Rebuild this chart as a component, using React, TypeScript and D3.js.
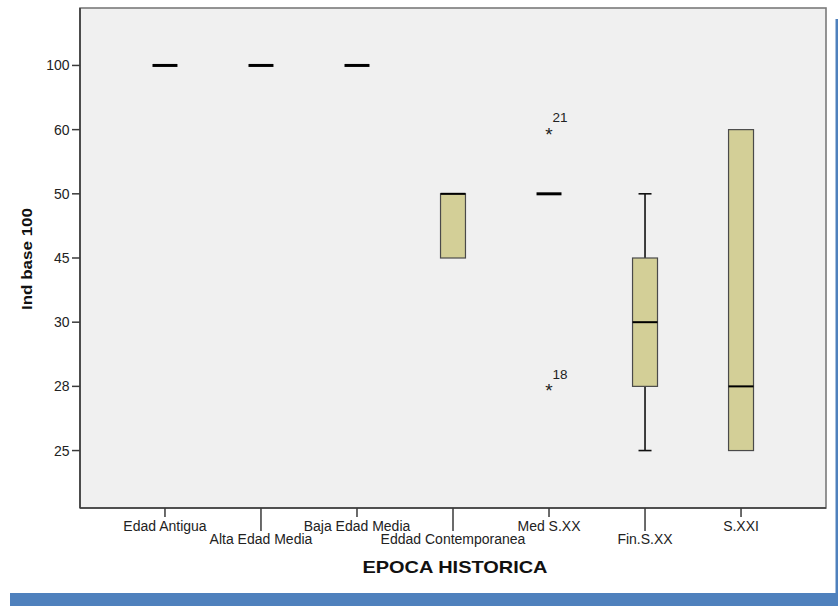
import React from "react";
import * as d3 from "d3";

const categories = [
  "Edad Antigua",
  "Alta Edad Media",
  "Baja Edad Media",
  "Eddad Contemporanea",
  "Med S.XX",
  "Fin.S.XX",
  "S.XXI",
];
const yTickLabels = ["100", "60", "50", "45", "30", "28", "25"];
const whiskerLow = [100, 100, 100, 45, 50, 25, 25];
const q1 = [100, 100, 100, 45, 50, 28, 25];
const median = [100, 100, 100, 50, 50, 30, 28];
const q3 = [100, 100, 100, 50, 50, 45, 60];
const whiskerHigh = [100, 100, 100, 50, 50, 50, 60];
const outlierCats = ["Med S.XX", "Med S.XX"];
const outlierValues = [60, 28];
const outlierLabels = ["21", "18"];
const xTitle = "EPOCA HISTORICA";
const yTitle = "Ind base 100";

const W = 838;
const H = 606;
const plot = { left: 80, right: 826, top: 8, bottom: 508 };
const FONT = "'Liberation Sans', Arial, sans-serif";

export default function App() {
  const x = d3
    .scalePoint<string>()
    .domain(categories)
    .range([plot.left, plot.right])
    .padding(0.885);
  const y = d3
    .scalePoint<string>()
    .domain(yTickLabels)
    .range([plot.top, plot.bottom])
    .padding(0.895);
  const yv = (v: number) => y(String(v)) as number;
  const boxW = x.step() * 0.26;
  const capW = 13;

  return (
    <svg
      width={W}
      height={H}
      style={{ position: "absolute", left: 0, top: 0, display: "block" }}
      fontFamily={FONT}
    >
      <rect x={0} y={0} width={W} height={H} fill="#ffffff" />
      {/* page decoration */}
      <rect x={10} y={593} width={828} height={13} fill="#4f81bd" />
      <rect x={835.5} y={19} width={2.5} height={580} fill="#4f81bd" />

      {/* plot area */}
      <rect
        x={plot.left}
        y={plot.top}
        width={plot.right - plot.left}
        height={plot.bottom - plot.top}
        fill="#f0f0f0"
        stroke="#7a7a7a"
        strokeWidth={1.6}
      />
      <line x1={plot.left} x2={plot.left} y1={plot.top} y2={plot.bottom} stroke="#3a3a3a" strokeWidth={1.6} />
      <line x1={plot.left} x2={plot.right} y1={plot.bottom} y2={plot.bottom} stroke="#3a3a3a" strokeWidth={1.6} />

      {/* y axis ticks */}
      {yTickLabels.map((t) => (
        <g key={t}>
          <line x1={72} x2={plot.left} y1={y(t)} y2={y(t)} stroke="#3a3a3a" strokeWidth={1.5} />
          <text x={69.5} y={(y(t) as number) + 5} textAnchor="end" fontSize={14} fill="#222">
            {t}
          </text>
        </g>
      ))}

      {/* x axis ticks */}
      {categories.map((c, i) => {
        const cx = x(c) as number;
        const long = i % 2 === 1;
        return (
          <g key={c}>
            <line x1={cx} x2={cx} y1={plot.bottom} y2={long ? 531 : 517} stroke="#3a3a3a" strokeWidth={1.5} />
            <text x={cx} y={long ? 544 : 531} textAnchor="middle" fontSize={14} fill="#222">
              {c}
            </text>
          </g>
        );
      })}

      {/* boxes */}
      {categories.map((c, i) => {
        const cx = x(c) as number;
        const hasBox = q1[i] !== q3[i];
        return (
          <g key={"b" + c}>
            {whiskerHigh[i] !== q3[i] && (
              <g>
                <line x1={cx} x2={cx} y1={yv(q3[i])} y2={yv(whiskerHigh[i])} stroke="#111" strokeWidth={1.6} />
                <line x1={cx - capW / 2} x2={cx + capW / 2} y1={yv(whiskerHigh[i])} y2={yv(whiskerHigh[i])} stroke="#111" strokeWidth={1.6} />
              </g>
            )}
            {whiskerLow[i] !== q1[i] && (
              <g>
                <line x1={cx} x2={cx} y1={yv(q1[i])} y2={yv(whiskerLow[i])} stroke="#111" strokeWidth={1.6} />
                <line x1={cx - capW / 2} x2={cx + capW / 2} y1={yv(whiskerLow[i])} y2={yv(whiskerLow[i])} stroke="#111" strokeWidth={1.6} />
              </g>
            )}
            {hasBox && (
              <rect
                x={cx - boxW / 2}
                y={yv(q3[i])}
                width={boxW}
                height={yv(q1[i]) - yv(q3[i])}
                fill="#d3cf97"
                stroke="#4a4a4a"
                strokeWidth={1.2}
              />
            )}
            <line
              x1={cx - boxW / 2}
              x2={cx + boxW / 2}
              y1={yv(median[i])}
              y2={yv(median[i])}
              stroke="#000"
              strokeWidth={hasBox ? 2 : 3}
            />
          </g>
        );
      })}

      {/* outliers */}
      {outlierValues.map((v, i) => {
        const cx = x(outlierCats[i]) as number;
        const cy = yv(v);
        return (
          <g key={"o" + i}>
            <text x={cx} y={cy + 11} textAnchor="middle" fontSize={19} fill="#222">
              *
            </text>
            <text x={cx + 3.5} y={cy - 7.5} fontSize={13.5} fill="#222">
              {outlierLabels[i]}
            </text>
          </g>
        );
      })}

      {/* titles */}
      <text
        x={455}
        y={572.5}
        textAnchor="middle"
        fontSize={17}
        fontWeight="bold"
        fill="#111"
        textLength={185}
        lengthAdjust="spacingAndGlyphs"
      >
        {xTitle}
      </text>
      <text
        transform="translate(31.5,259) rotate(-90)"
        textAnchor="middle"
        fontSize={15.5}
        fontWeight="bold"
        fill="#111"
        textLength={102}
        lengthAdjust="spacingAndGlyphs"
      >
        {yTitle}
      </text>
    </svg>
  );
}
